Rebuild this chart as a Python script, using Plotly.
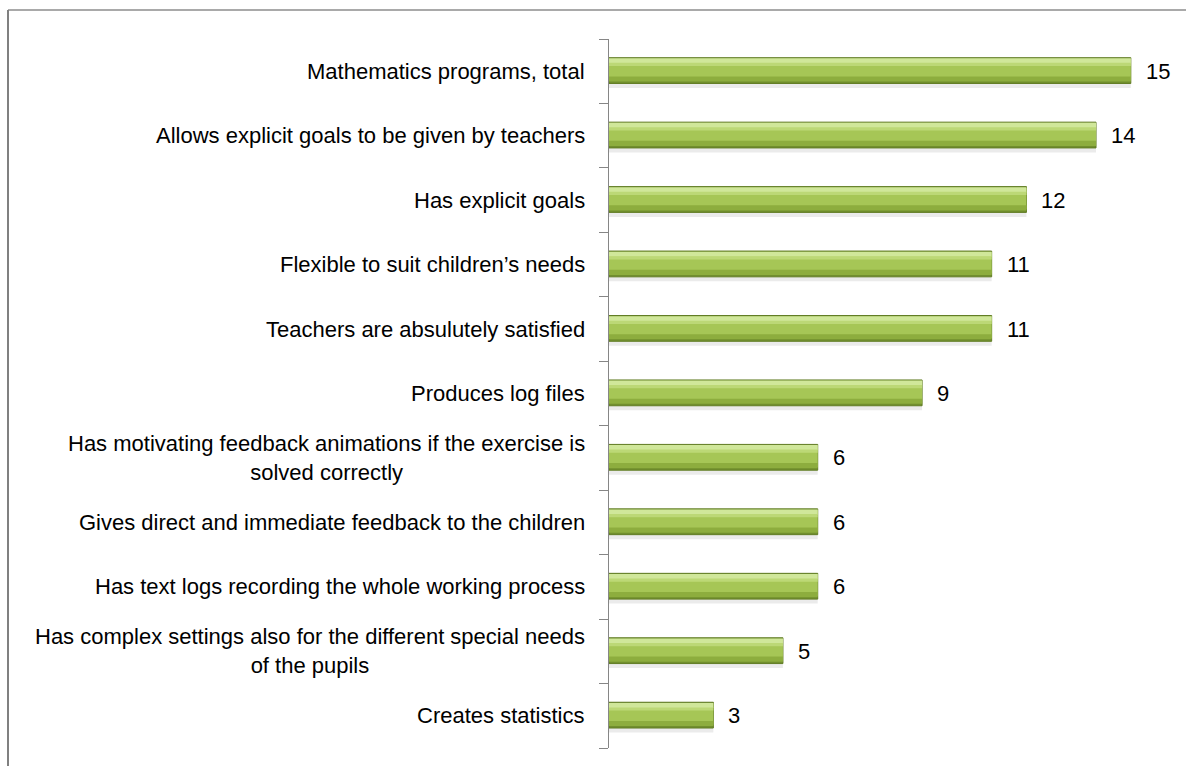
import plotly.graph_objects as go

categories = [
    "Mathematics programs, total",
    "Allows explicit goals to be given by teachers",
    "Has explicit goals",
    "Flexible to suit children\u2019s needs",
    "Teachers are absulutely satisfied",
    "Produces log files",
    "Has motivating feedback animations if the exercise is<br>solved correctly",
    "Gives direct and immediate feedback to the children",
    "Has text logs recording the whole working process",
    "Has complex settings also for the different special needs<br>of the pupils",
    "Creates statistics",
]
values = [15, 14, 12, 11, 11, 9, 6, 6, 6, 5, 3]
value_labels = [str(v) for v in values]

FONT = "Liberation Sans, Arial, sans-serif"
FS = 22

idx = list(range(len(categories)))
fig = go.Figure()

layers = [
    # (offset, width, color, line)
    (-0.16, 0.42, "rgba(0,0,0,0.08)", None),
    (-0.21, 0.40, "#718f2e", dict(color="#627d25", width=1)),
    (-0.19, 0.33, "#a6c656", None),
    (-0.20, 0.08, "#d0e79a", None),
    (-0.13, 0.05, "#bcd876", None),
    (0.08, 0.08, "#8dad3e", None),
]
for off, w, col, ln in layers:
    fig.add_trace(go.Bar(
        x=values, y=idx, orientation="h",
        offset=off, width=w,
        marker=dict(color=col, line=ln if ln else dict(width=0)),
        hoverinfo="skip", showlegend=False,
    ))

annotations = []
for i, (c, v, t) in enumerate(zip(categories, values, value_labels)):
    annotations.append(dict(
        x=0, xref="x", y=i, yref="y", text=c, showarrow=False,
        xanchor="right", yanchor="middle", align="center", xshift=-22,
        font=dict(family=FONT, size=FS, color="#000000"),
    ))
    annotations.append(dict(
        x=v, xref="x", y=i, yref="y", text=t, showarrow=False,
        xanchor="left", yanchor="middle", xshift=13,
        font=dict(family=FONT, size=FS, color="#000000"),
    ))

fig.update_layout(
    width=1186, height=766,
    margin=dict(l=609, r=3, t=39, b=18),
    paper_bgcolor="white", plot_bgcolor="white",
    barmode="overlay",
    xaxis=dict(range=[0, 16.5], visible=False, fixedrange=True),
    yaxis=dict(
        range=[10.5, -0.5],
        tickmode="array",
        tickvals=[i - 0.5 for i in range(len(categories) + 1)],
        showticklabels=False,
        ticks="outside", ticklen=9, tickcolor="#868686", tickwidth=1,
        showline=True, linecolor="#868686", linewidth=1,
        showgrid=False, zeroline=False,
    ),
    annotations=annotations,
    shapes=[
        dict(type="line", xref="paper", yref="paper",
             x0=(8 - 609) / 574, x1=1.2, y0=(748 - 10) / 709, y1=(748 - 10) / 709,
             line=dict(color="#8c8c8c", width=1.5)),
        dict(type="line", xref="paper", yref="paper",
             x0=(8 - 609) / 574, x1=(8 - 609) / 574, y0=(748 - 10) / 709, y1=-0.1,
             line=dict(color="#808080", width=2)),
    ],
)

fig.write_html("out.html")
